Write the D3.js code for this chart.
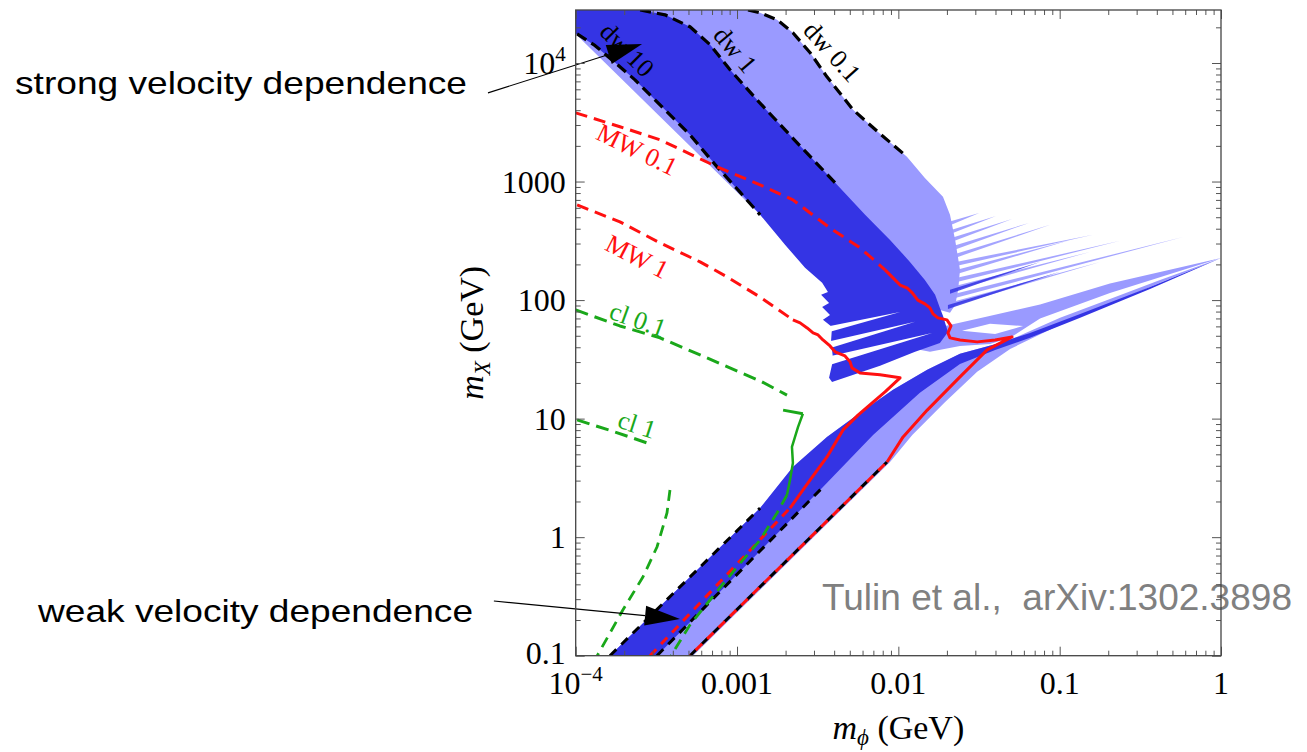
<!DOCTYPE html>
<html><head><meta charset="utf-8">
<script src="https://cdn.jsdelivr.net/npm/d3@7"></script>
<style>
html,body{margin:0;padding:0;background:#fff;}
svg{display:block;}
</style></head><body>
<svg id="chart" width="1307" height="752"></svg>
<script>
// ---------------- data (m_phi [GeV], m_X [GeV]) ----------------
const xTicks = [1e-4, 1e-3, 1e-2, 1e-1, 1];
const xTickLabels = [["10","−4"], ["0.001"], ["0.01"], ["0.1"], ["1"]];
const yTicks = [0.1, 1, 10, 100, 1000, 1e4];
const yTickLabels = [["0.1"], ["1"], ["10"], ["100"], ["1000"], ["10","4"]];

// upper (strong velocity dependence) band
const lightUpper = [[1.0e-4,2.8e4],[1.17e-3,2.8e4],[1.39e-3,26500],[1.77e-3,23200],[2.22e-3,18000],[2.84e-3,12200],[3.61e-3,7650],[5.24e-3,4030],[7.70e-3,2530],[1.13e-2,1620],[1.46e-2,1070],[1.89e-2,743],[2.09e-2,524],[2.25e-2,322],[2.41e-2,180],[2.35e-2,122],[2.25e-2,91.1],[2.09e-2,78.0],[1.81e-2,82.6],[1.025e-2,100],[3.77e-3,148],[1.39e-3,524],[1.0e-4,17600]];
const lightTeeth = [
  [[2.06e-2,457],[3.17e-2,544],[2.06e-2,423]],
  [[2.12e-2,391],[4.03e-2,513],[2.12e-2,362]],
  [[2.15e-2,335],[5.07e-2,484],[2.15e-2,310]],
  [[2.21e-2,287],[6.46e-2,448],[2.21e-2,265]],
  [[2.25e-2,245],[8.73e-2,431],[2.25e-2,227]],
  [[2.28e-2,210],[0.161,355],[2.28e-2,194]],
  [[2.31e-2,180],[0.116,322],[2.31e-2,166]],
  [[2.31e-2,154],[0.237,316],[2.31e-2,142]],
  [[2.28e-2,132],[0.154,255],[2.28e-2,122]],
  [[2.25e-2,113],[0.582,341],[2.25e-2,104]],
  [[2.18e-2,96.6],[0.178,210],[2.18e-2,89.3]]
];
const darkStreaks = [
  [[2.09e-2,122],[7.56e-2,210],[2.09e-2,113]],
  [[2.03e-2,91.1],[0.1006,173],[2.03e-2,84.3]]
];
const darkUpper = [[1.0e-4,2.8e4],[2.51e-4,2.8e4],[3.58e-4,25500],[5.11e-4,20200],[6.80e-4,14300],[9.05e-4,8770],[1.33e-3,4890],[2.36e-3,2120],[4.17e-3,938],[6.22e-3,524],[8.88e-3,322],[1.18e-2,210],[1.46e-2,148],[1.69e-2,111],[1.81e-2,85.9],[1.89e-2,73.6],[2.03e-2,53.9],[1.81e-2,43.5],[1.27e-2,36.6],[7.70e-3,27.9],[3.88e-3,20.4],[3.72e-3,22.1],[3.94e-3,31.3],[3.83e-3,46.1],[3.88e-3,59.4],[3.41e-3,68.1],[3.77e-3,75.0],[3.37e-3,87.6],[3.72e-3,94.7],[3.32e-3,111],[3.66e-3,117],[3.37e-3,140],[2.64e-3,187],[1.99e-3,292],[1.39e-3,524],[1.04e-3,818],[7.52e-4,1330],[5.11e-4,2480],[3.10e-4,4890],[2.33e-4,7210],[1.68e-4,10600],[1.32e-4,14000],[1.02e-4,17600],[1.0e-4,17600]];
// white gaps between the resonance fingers of the dark band
const fingerGaps = [
  [[3.27e-3,58.2],[1.025e-2,79.5],[3.37e-3,51.8]],
  [[3.37e-3,43.5],[1.27e-2,65.5],[3.46e-3,38.0]],
  [[3.37e-3,32.5],[1.62e-2,52.8],[3.46e-3,27.4]]
];
const lightFinger = [[1.025e-2,41.0],[1.95e-2,60.5],[3.45e-2,72.0],[7.56e-2,92.0],[0.205,138],[1.0,227],[0.205,115],[7.56e-2,70.0],[4.93e-2,48.0],[3.70e-2,42.7],[2.41e-2,41.0],[1.57e-2,36.6]];
const lens = [[2.48e-2,55.0],[3.70e-2,63.0],[5.93e-2,60.5],[3.98e-2,51.8]];
// lower (weak velocity dependence) band
const lightLower = [[1.63e-4,0.1],[5.34e-4,0.1],[8.88e-3,4.31],[1.22e-2,7.29],[1.95e-2,13.8],[3.08e-2,24.8],[4.93e-2,38.7],[0.1006,61.8],[0.205,92.9],[0.419,140],[1.0,227],[0.419,148],[0.205,102],[0.1006,70.8],[4.93e-2,46.1],[3.87e-2,41.9],[2.41e-2,35.2],[1.51e-2,25.8],[9.27e-3,17.5],[5.79e-3,11.2],[3.61e-3,7.01],[2.22e-3,3.91],[1.39e-3,1.76]];
const darkLower = [[1.63e-4,0.1],[1.39e-3,1.76],[2.22e-3,3.91],[3.61e-3,7.01],[5.79e-3,11.2],[9.27e-3,17.5],[1.51e-2,25.8],[2.41e-2,35.2],[3.87e-2,41.9],[6.55e-2,52.8],[0.134,76.4],[0.363,129],[1.0,227],[0.363,124],[0.134,70.8],[6.55e-2,48.0],[3.98e-2,38.0],[2.41e-2,28.9],[1.36e-2,16.5],[6.97e-3,7.29],[3.41e-3,2.65],[3.19e-4,0.1]];

// dw contours (black dashed)
const dw10Upper = [[1.02e-4,17600],[1.32e-4,14000],[1.68e-4,10600],[2.33e-4,7210],[3.10e-4,4890],[5.11e-4,2480],[7.52e-4,1330],[1.04e-3,818],[1.39e-3,524]];
const dw1Upper = [[2.51e-4,2.8e4],[3.58e-4,25500],[5.11e-4,20200],[6.80e-4,14300],[9.05e-4,8770],[1.33e-3,4890],[2.36e-3,2120],[4.17e-3,938]];
const dw01Upper = [[1.17e-3,2.8e4],[1.39e-3,26500],[1.77e-3,23200],[2.22e-3,18000],[2.84e-3,12200],[3.61e-3,7650],[5.24e-3,4030],[7.70e-3,2530],[1.13e-2,1620]];
const dw10Lower = [[1.63e-4,0.1],[1.39e-3,1.76]];
const dw1Lower = [[3.19e-4,0.1],[3.41e-3,2.65]];
const dw01Lower = [[5.11e-4,0.1],[8.51e-3,4.31]];
// MW contours (red)
const mw01Dashed = [[1.0e-4,3800],[1.88e-4,2900],[3.33e-4,2250],[7.52e-4,1330],[1.39e-3,938],[2.22e-3,701],[3.77e-3,406],[5.79e-3,276],[8.27e-3,180]];
const mw01Solid = [[8.27e-3,180],[9.27e-3,154],[1.025e-2,134],[1.13e-2,127],[1.22e-2,115],[1.32e-2,100],[1.46e-2,92.9],[1.57e-2,85.9],[1.64e-2,76.4],[1.76e-2,70.8],[2.00e-2,68.1],[2.12e-2,60.5],[2.03e-2,52.8],[2.09e-2,48.0],[2.41e-2,46.1],[3.08e-2,44.4],[3.98e-2,46.1],[5.07e-2,48.9],[3.55e-2,38.0],[2.41e-2,22.5],[1.51e-2,11.8],[1.07e-2,7.01],[8.51e-3,4.31]];
const mw01Lower = [[5.11e-4,0.1],[8.51e-3,4.31]];
const mw1Dashed = [[1.02e-4,636],[1.88e-4,457],[3.33e-4,304],[5.90e-4,210],[8.67e-4,157],[1.39e-3,106],[2.22e-3,68.1]];
const mw1Solid = [[2.22e-3,68.1],[2.46e-3,64.2],[2.72e-3,58.2],[2.96e-3,52.8],[3.18e-3,50.8],[3.41e-3,46.1],[3.77e-3,41.0],[4.05e-3,36.6],[4.67e-3,33.8],[5.02e-3,30.1],[5.16e-3,26.8],[5.79e-3,24.3],[7.70e-3,23.4],[1.025e-2,22.1],[8.27e-3,16.8],[6.97e-3,13.8],[5.62e-3,10.7],[4.54e-3,8.03],[3.61e-3,4.75],[2.84e-3,3.04],[2.13e-3,1.76]];
const mw1Lower = [[2.89e-4,0.1],[2.13e-3,1.76]];
// cluster contours (green)
const cl01Dashed = [[1.0e-4,82.6],[1.88e-4,60.5],[3.33e-4,48.0],[5.90e-4,34.5],[8.67e-4,27.4],[1.39e-3,20.8],[2.04e-3,15.8]];
const cl01Kink = [[1.93e-3,11.8],[2.56e-3,11.0]];
const cl01Solid = [[2.56e-3,11.0],[2.39e-3,8.51],[2.19e-3,5.77],[2.22e-3,4.23],[2.13e-3,3.04],[2.04e-3,2.27]];
const cl01Lower = [[2.04e-3,2.27],[1.77e-3,1.60],[1.39e-3,0.946],[1.0e-3,0.561],[6.80e-4,0.295],[5.11e-4,0.182],[3.90e-4,0.1]];
const cl1Dashed = [[1.02e-4,9.75],[1.75e-4,7.72],[3.01e-4,6.0]];
const clLeft = [[3.84e-4,2.50],[3.68e-4,1.60],[3.19e-4,0.826],[2.61e-4,0.461],[1.96e-4,0.243],[1.36e-4,0.1]];

const curveLabels = ["dw 10","dw 1","dw 0.1","MW 0.1","MW 1","cl 0.1","cl 1"];
const curveLabelAt = [[2.08e-4,12900],[9.72e-4,12900],[3.88e-3,12400],[2.40e-4,1850],[2.40e-4,232],[2.43e-4,68.1],[2.40e-4,8.85]];

const annoTexts = ["strong velocity dependence", "weak velocity dependence"];
const annoTail = [[2.86e-5,5600],[3.11e-5,0.289]];
const annoTip = [[2.58e-4,14500],[4.43e-4,0.204]];
const creditText = "Tulin et al.,  arXiv:1302.3898";

// ---------------- layout / style ----------------
const L = 575.7, R = 1221, T = 10, B = 655.7;
const DARK = "#3434e4", LIGHT = "#9a9aff", RED = "#ff1010", GREEN = "#1aa81a";
const SERIF = "'Liberation Serif','Times New Roman',serif";
const SANS = "'Liberation Sans',Arial,sans-serif";
const labelStyle = [
  {rot:45, color:"#000"}, {rot:50, color:"#000"}, {rot:48, color:"#000"},
  {rot:26, color:RED}, {rot:27, color:RED}, {rot:20, color:GREEN}, {rot:18, color:GREEN}
];

const svg = d3.select("#chart");
const x = d3.scaleLog().domain([1e-4, 1]).range([L, R]);
const y = d3.scaleLog().domain([0.1, 2.8e4]).range([B, T]);

svg.append("defs").append("clipPath").attr("id","pc")
  .append("rect").attr("x",L).attr("y",T).attr("width",R-L).attr("height",B-T);
const gp = svg.append("g").attr("clip-path","url(#pc)");
const lg = d3.line().x(d=>x(d[0])).y(d=>y(d[1]));

function area(data, fill, op){
  gp.append("path").attr("d", lg(data)+"Z").attr("fill", fill)
    .attr("fill-opacity", op==null?1:op).attr("stroke","none");
}
function curve(data, stroke, w, dash, off){
  const p = gp.append("path").attr("d", lg(data)).attr("fill","none")
    .attr("stroke", stroke).attr("stroke-width", w)
    .attr("stroke-linejoin","round").attr("stroke-linecap","butt");
  if (dash) p.attr("stroke-dasharray", dash);
  if (off) p.attr("stroke-dashoffset", off);
}

// regions
area(lightUpper, LIGHT);
lightTeeth.forEach(s => area(s, LIGHT, 0.9));
darkStreaks.forEach(s => area(s, DARK, 0.85));
area(lightFinger, LIGHT);
area(lens, "#fff");
area(darkUpper, DARK);
fingerGaps.forEach(g => area(g, "#fff"));
area(lightLower, LIGHT);
area(darkLower, DARK);

// lines
[dw10Upper, dw1Upper, dw01Upper].forEach(d => curve(d, "#000", 3.2, "11,6"));
[dw10Lower, dw1Lower, dw01Lower].forEach(d => curve(d, "#000", 3, "9,7"));
curve(mw01Dashed, RED, 3, "12,7");
curve(mw01Solid, RED, 3);
curve(mw1Dashed, RED, 3, "12,7");
curve(mw1Solid, RED, 3);
curve(mw1Lower, RED, 3, "9,7");
curve(mw01Lower, RED, 3, "9,7", 8);
curve(cl01Dashed, GREEN, 3, "13,7");
curve(cl01Kink, GREEN, 3);
curve(cl01Solid, GREEN, 2.5);
curve(cl01Lower, GREEN, 2.8, "11,7");
curve(cl1Dashed, GREEN, 3, "13,7");
curve(clLeft, GREEN, 2.8, "11,7");

// curve labels
curveLabels.forEach((t,i) => {
  const px = x(curveLabelAt[i][0]), py = y(curveLabelAt[i][1]);
  svg.append("text").attr("x",0).attr("y",0)
    .attr("transform",`translate(${px},${py}) rotate(${labelStyle[i].rot})`)
    .attr("text-anchor","middle").attr("dominant-baseline","central")
    .attr("font-family",SERIF).attr("font-size",26)
    .attr("fill",labelStyle[i].color).text(t);
});

// annotation arrows
function arrow(tail, tip){
  const x1=x(tail[0]), y1=y(tail[1]), x2=x(tip[0]), y2=y(tip[1]);
  const dx=x2-x1, dy=y2-y1, len=Math.hypot(dx,dy), ux=dx/len, uy=dy/len;
  const hl=35, hw=10, bx=x2-ux*hl, by=y2-uy*hl;
  svg.append("line").attr("x1",x1).attr("y1",y1).attr("x2",bx).attr("y2",by)
    .attr("stroke","#000").attr("stroke-width",1.1);
  svg.append("path").attr("d",`M${x2},${y2}L${bx-uy*hw},${by+ux*hw}L${bx+uy*hw},${by-ux*hw}Z`)
    .attr("fill","#000");
}
annoTail.forEach((t,i)=>arrow(t, annoTip[i]));

svg.append("text").attr("x",15).attr("y",94).attr("font-family",SANS).attr("font-size",32)
  .attr("textLength",452).attr("lengthAdjust","spacingAndGlyphs").attr("fill","#000").text(annoTexts[0]);
svg.append("text").attr("x",38).attr("y",622).attr("font-family",SANS).attr("font-size",32)
  .attr("textLength",435).attr("lengthAdjust","spacingAndGlyphs").attr("fill","#000").text(annoTexts[1]);
svg.append("text").attr("x",822).attr("y",610).attr("font-family",SANS).attr("font-size",36)
  .attr("textLength",470).attr("lengthAdjust","spacingAndGlyphs").attr("fill","#808080")
  .style("white-space","pre").text(creditText);

// axes ticks
function minorVals(domain){
  const out=[]; const lo=Math.floor(Math.log10(domain[0])), hi=Math.ceil(Math.log10(domain[1]));
  for(let e=lo;e<hi;e++) for(let m=2;m<=9;m++){ const v=m*Math.pow(10,e); if(v>domain[0]&&v<domain[1]) out.push(v); }
  return out;
}
const xm = minorVals(x.domain()), ym = minorVals(y.domain());
function axisG(axis, tx, ty){
  const g = svg.append("g").attr("transform",`translate(${tx},${ty})`).call(axis);
  g.select(".domain").remove();
  g.selectAll("line").attr("stroke","#555").attr("stroke-width",1);
  g.selectAll("text").remove();
}
axisG(d3.axisBottom(x).tickValues(xTicks).tickSizeInner(-9).tickSizeOuter(0).tickFormat(""), 0, B);
axisG(d3.axisBottom(x).tickValues(xm).tickSizeInner(-5).tickSizeOuter(0).tickFormat(""), 0, B);
axisG(d3.axisTop(x).tickValues(xTicks).tickSizeInner(-9).tickSizeOuter(0).tickFormat(""), 0, T);
axisG(d3.axisTop(x).tickValues(xm).tickSizeInner(-5).tickSizeOuter(0).tickFormat(""), 0, T);
axisG(d3.axisLeft(y).tickValues(yTicks).tickSizeInner(-9).tickSizeOuter(0).tickFormat(""), L, 0);
axisG(d3.axisLeft(y).tickValues(ym).tickSizeInner(-5).tickSizeOuter(0).tickFormat(""), L, 0);
axisG(d3.axisRight(y).tickValues(yTicks).tickSizeInner(-9).tickSizeOuter(0).tickFormat(""), R, 0);
axisG(d3.axisRight(y).tickValues(ym).tickSizeInner(-5).tickSizeOuter(0).tickFormat(""), R, 0);

svg.append("rect").attr("x",L).attr("y",T).attr("width",R-L).attr("height",B-T)
  .attr("fill","none").attr("stroke","#444").attr("stroke-width",1.3);

// tick labels
function tickText(sel, parts){
  sel.append("tspan").text(parts[0]);
  if (parts.length>1) sel.append("tspan").attr("font-size",21).attr("dy",-13).text(parts[1]);
}
yTicks.forEach((v,i)=>{
  const t = svg.append("text").attr("x",L-10).attr("y",y(v)+(i===0?8:11))
    .attr("text-anchor","end").attr("font-family",SERIF).attr("font-size",32).attr("fill","#000");
  tickText(t, yTickLabels[i]);
});
xTicks.forEach((v,i)=>{
  const t = svg.append("text").attr("x",x(v)).attr("y",694)
    .attr("text-anchor","middle").attr("font-family",SERIF).attr("font-size",32).attr("fill","#000");
  tickText(t, xTickLabels[i]);
});

// axis titles
const xt = svg.append("text").attr("x",(L+R)/2).attr("y",739).attr("text-anchor","middle")
  .attr("font-family",SERIF).attr("font-size",34).attr("fill","#000");
xt.append("tspan").attr("font-style","italic").text("m");
xt.append("tspan").attr("font-style","italic").attr("font-size",23).attr("dy",6).text("ϕ");
xt.append("tspan").attr("dy",-6).text(" (GeV)");

const yt = svg.append("text").attr("transform",`translate(483,${(T+B)/2}) rotate(-90)`)
  .attr("text-anchor","middle").attr("font-family",SERIF).attr("font-size",34).attr("fill","#000");
yt.append("tspan").attr("font-style","italic").text("m");
yt.append("tspan").attr("font-style","italic").attr("font-size",23).attr("dy",7).text("X");
yt.append("tspan").attr("dy",-7).text(" (GeV)");
</script>
</body></html>
